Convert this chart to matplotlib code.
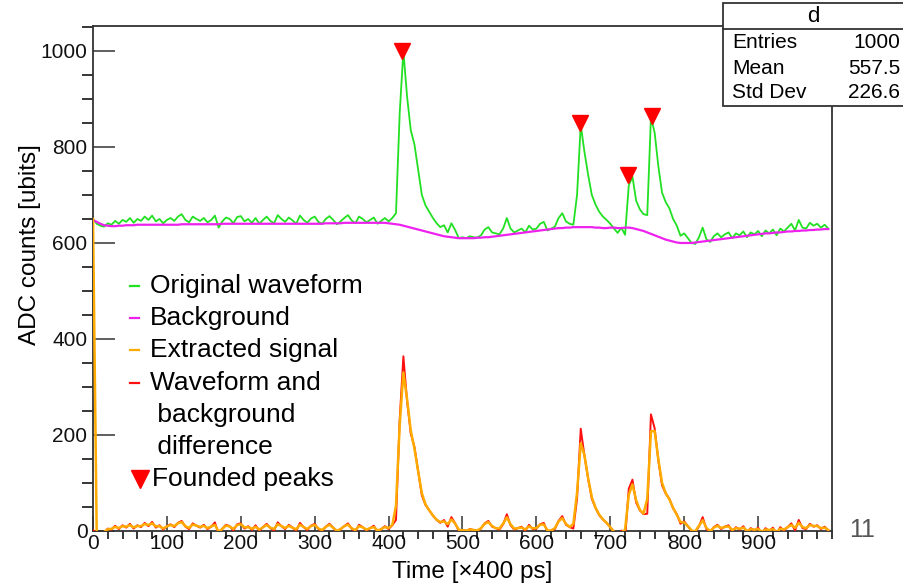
import numpy as np
import matplotlib.pyplot as plt
from matplotlib.lines import Line2D
from matplotlib.patches import Rectangle
from matplotlib.ticker import MultipleLocator

plt.rcParams['font.family'] = ['Liberation Sans', 'DejaVu Sans']

# samples every 5 time bins
time = np.arange(0, 1000, 5)

waveform = [
    650, 640, 636, 634, 641, 638, 646, 640, 648, 644, 652, 642, 650, 646, 655, 648, 657, 645, 650, 641,
    648, 652, 646, 655, 660, 648, 643, 655, 650, 646, 652, 643, 648, 657, 632, 645, 653, 650, 641, 654,
    656, 645, 650, 642, 652, 640, 648, 655, 646, 641, 658, 650, 644, 653, 647, 640, 657, 648, 642, 651,
    655, 644, 640, 650, 656, 648, 639, 645, 652, 658, 647, 641, 655, 650, 643, 648, 653, 640, 646, 652,
    645, 652, 662, 870, 1000, 905, 835, 805, 752, 700, 678, 665, 652, 641, 633, 637, 622, 641, 627, 610,
    612, 610, 614, 612, 611, 616, 628, 633, 622, 620, 618, 630, 652, 630, 622, 626, 630, 622, 636, 628,
    630, 640, 644, 626, 630, 634, 652, 662, 645, 640, 638, 700, 846, 790, 742, 700, 680, 665, 655, 648,
    640, 630, 621, 632, 617, 720, 738, 688, 670, 660, 658, 862, 830, 760, 705, 685, 672, 650, 636, 615,
    620, 610, 600, 598, 612, 632, 608, 602, 614, 620, 612, 618, 622, 610, 620, 616, 624, 612, 622, 618,
    625, 614, 626, 620, 628, 616, 630, 624, 632, 640, 626, 648, 632, 630, 642, 636, 640, 632, 638, 630,
]

background = [
    648, 644, 640, 637, 636, 635, 635, 636, 636, 637, 637, 637, 638, 638, 638, 638, 638, 638, 638, 638,
    638, 638, 638, 638, 639, 639, 639, 639, 639, 639, 639, 639, 639, 639, 639, 640, 640, 640, 640, 640,
    640, 640, 640, 640, 640, 640, 640, 640, 640, 640, 640, 640, 640, 640, 640, 640, 640, 640, 640, 640,
    640, 640, 640, 641, 641, 641, 641, 641, 642, 642, 642, 642, 642, 642, 642, 642, 642, 642, 642, 642,
    641, 640, 639, 638, 636, 634, 632, 630, 628, 626, 624, 622, 620, 618, 616, 614, 613, 612, 611, 610,
    610, 610, 610, 610, 611, 611, 612, 612, 613, 614, 615, 616, 617, 618, 619, 620, 621, 622, 623, 624,
    625, 626, 627, 628, 629, 630, 631, 631, 632, 632, 633, 633, 633, 633, 633, 633, 632, 632, 631, 631,
    632, 632, 631, 631, 632, 632, 631, 629, 627, 625, 622, 619, 616, 613, 610, 607, 605, 603, 601, 600,
    600, 600, 600, 601, 602, 603, 604, 605, 606, 607, 608, 609, 610, 611, 612, 613, 614, 615, 616, 617,
    618, 619, 620, 620, 621, 622, 622, 623, 624, 624, 625, 625, 626, 626, 627, 627, 628, 628, 629, 629,
]

peak_x = [418, 659, 724, 757]
peak_y = [1000, 850, 742, 865]

edge_bin = 650  # first bin of the extracted histogram

stats = [('Entries', '1000'), ('Mean', '557.5'), ('Std Dev', '226.6')]

diff = np.array(waveform, float) - np.array(background, float)
extracted = np.convolve(diff, [0.15, 0.7, 0.15], mode='same')
extracted[0] = edge_bin

fig = plt.figure(figsize=(9.04, 5.83), dpi=100)
ax = fig.add_axes([93/904, 1 - 531/583, 739/904, 505/583])

ax.plot(time, waveform, color='#22e022', lw=1.3, zorder=3)
ax.plot(time, background, color='#ee22ee', lw=1.6, zorder=4)
ax.plot(time, diff, color='#ff1010', lw=1.4, zorder=3)
ax.plot(time, extracted, color='#ffaa00', lw=1.8, zorder=4)
ax.plot(peak_x, peak_y, ls='none', marker='v', color='red', ms=11, zorder=5)

ax.set_xlim(0, 1000)
ax.set_ylim(0, 1052)
ax.set_xticks(np.arange(0, 1000, 100))
ax.set_yticks(np.arange(0, 1001, 200))
ax.xaxis.set_minor_locator(MultipleLocator(20))
ax.yaxis.set_minor_locator(MultipleLocator(50))
ax.tick_params(axis='both', direction='in', labelsize=15, colors='#333333', labelcolor='#111111')
ax.tick_params(axis='y', which='major', length=16, width=1.1, pad=4)
ax.tick_params(axis='y', which='minor', length=8, width=1.1)
ax.tick_params(axis='x', which='major', length=11, width=1.1, pad=2)
ax.tick_params(axis='x', which='minor', length=5.5, width=1.1)
for s in ax.spines.values():
    s.set_color('#333333')
    s.set_linewidth(1.3)

fig.text(30/904, 1 - 245/583, 'ADC counts [ubits]', rotation=90, ha='center', va='center', fontsize=17.5)
fig.text(472/904, 1 - 572/583, 'Time [\u00d7400 ps]', ha='center', va='center', fontsize=17.5)

# legend drawn by hand
legend = [
    ('#22e022', 'Original waveform'),
    ('#ee22ee', 'Background'),
    ('#ffaa00', 'Extracted signal'),
    ('#ff1010', 'Waveform and'),
    (None, ' background'),
    (None, ' difference'),
]
for i, (c, label) in enumerate(legend):
    y = 1 - (286 + 32.2*i)/583
    if c:
        fig.add_artist(Line2D([130/904, 139/904], [y, y], color=c, lw=1.6))
    fig.text(150/904, y, label, ha='left', va='center', fontsize=19)
y = 1 - 479/583
fig.add_artist(Line2D([140/904], [y], marker='v', color='red', ms=13, ls='none'))
fig.text(152/904, y, 'Founded peaks', ha='left', va='center', fontsize=19)

# stats box
fig.add_artist(Rectangle((723/904, 1 - 106/583), 200/904, 103/583, facecolor='white',
                         edgecolor='#333333', lw=1.3, zorder=10, clip_on=False))
fig.add_artist(Line2D([723/904, 1], [1 - 29/583]*2, color='#333333', lw=1.3, zorder=11))
fig.text(813/904, 1 - 16/583, 'd', ha='center', va='center', fontsize=16, zorder=12)
for i, (name, val) in enumerate(stats):
    y = 1 - (43 + 25*i)/583
    fig.text(732/904, y, name, ha='left', va='center', fontsize=15, zorder=12)
    fig.text(900/904, y, val, ha='right', va='center', fontsize=15, zorder=12)

fig.text(862/904, 1 - 530/583, '11', ha='center', va='center', fontsize=18, color='#555555')

fig.savefig('out.png', dpi=100)
